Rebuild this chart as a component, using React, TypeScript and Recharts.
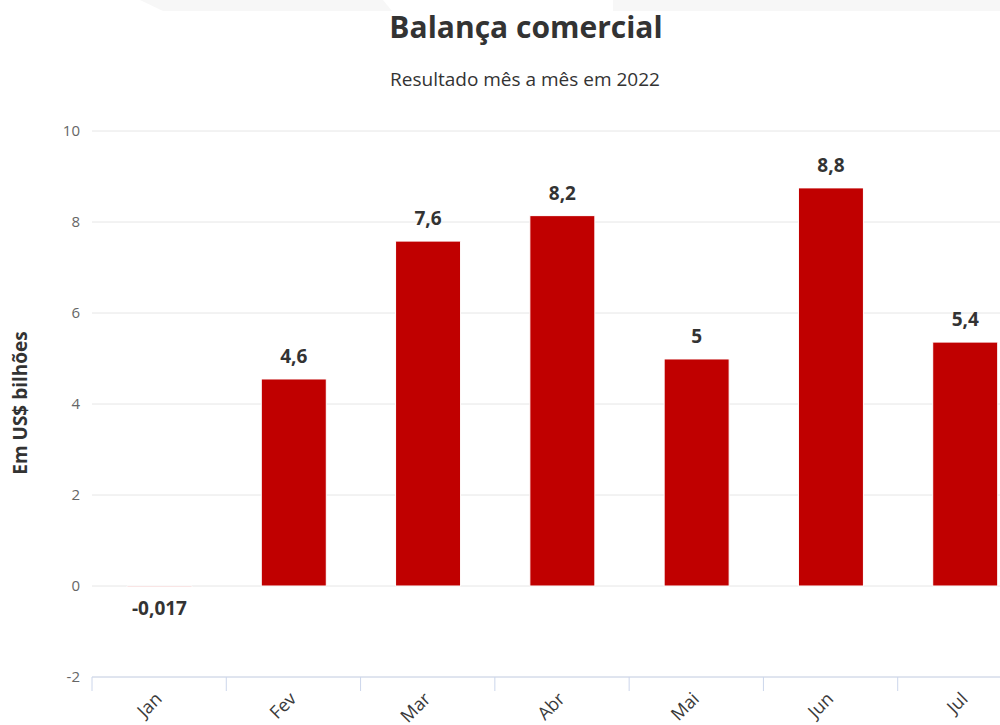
import React from 'react';
import { BarChart, Bar, XAxis, YAxis, CartesianGrid, LabelList } from 'recharts';

const months = ['Jan', 'Fev', 'Mar', 'Abr', 'Mai', 'Jun', 'Jul'];
const values = [-0.017, 4.55, 7.58, 8.14, 4.99, 8.75, 5.36];
const valueLabels = ['-0,017', '4,6', '7,6', '8,2', '5', '8,8', '5,4'];
const yTicks = [-2, 0, 2, 4, 6, 8, 10];

const data = months.map((m, i) => ({ month: m, value: values[i] }));

const CHART_W = 1050;
const CHART_H = 760;
const PLOT_LEFT = 92;
const PLOT_RIGHT = 1032;
const BAND = (PLOT_RIGHT - PLOT_LEFT) / months.length;
const FONT = '"Open Sans", "DejaVu Sans", sans-serif';

const XTick = (props: any) => {
  const { x, y, payload, index } = props;
  const ax = x + 4;
  const ay = y + 23;
  return (
    <g>
      <line x1={x - BAND / 2} y1={y} x2={x - BAND / 2} y2={y + 14} stroke="#ccd6eb" strokeWidth={1} />
      {index === months.length - 1 && (
        <line x1={x + BAND / 2} y1={y} x2={x + BAND / 2} y2={y + 14} stroke="#ccd6eb" strokeWidth={1} />
      )}
      <text
        x={ax}
        y={ay}
        textAnchor="end"
        transform={`rotate(-45 ${ax} ${ay})`}
        fill="#3a3a3a"
        fontSize={18}
        fontFamily={FONT}
      >
        {payload.value}
      </text>
    </g>
  );
};

const ValueLabel = (props: any) => {
  const { x, y, width, height, index } = props;
  const v = values[index];
  const cx = x + width / 2;
  const top = Math.min(y, y + height);
  const bottom = Math.max(y, y + height);
  const ty = v >= 0 ? top - 16 : bottom + 28;
  return (
    <text
      x={cx}
      y={ty}
      textAnchor="middle"
      fill="#333"
      fontSize={19}
      fontWeight={700}
      fontFamily={FONT}
    >
      {valueLabels[index]}
    </text>
  );
};

export default function App() {
  return (
    <div
      style={{
        position: 'absolute',
        left: 0,
        top: 0,
        width: 1000,
        height: 725,
        overflow: 'hidden',
        background: '#fff',
        fontFamily: FONT,
      }}
    >
      <svg width={1000} height={725} style={{ position: 'absolute', left: 0, top: 0 }}>
        <polygon points="140,0 383,0 392,11 163,11" fill="#f7f7f7" />
        <rect x={613} y={0} width={387} height={11} fill="#f7f7f7" />
        <text x={526} y={38} textAnchor="middle" fill="#333" fontSize={30} fontWeight={700} fontFamily={FONT}>
          Balança comercial
        </text>
        <text x={525} y={86} textAnchor="middle" fill="#333" fontSize={19} fontFamily={FONT}>
          Resultado mês a mês em 2022
        </text>
        <text
          x={27}
          y={403}
          textAnchor="middle"
          transform="rotate(-90 27 403)"
          fill="#333"
          fontSize={19}
          fontWeight={700}
          fontFamily={FONT}
        >
          Em US$ bilhões
        </text>
      </svg>
      <div style={{ position: 'absolute', left: 0, top: 0 }}>
        <BarChart
          width={CHART_W}
          height={CHART_H}
          data={data}
          margin={{ top: 131, right: CHART_W - PLOT_RIGHT, left: 0, bottom: 0 }}
        >
          <CartesianGrid vertical={false} stroke="#e6e6e6" />
          <YAxis
            width={PLOT_LEFT}
            domain={[-2, 10]}
            ticks={yTicks}
            interval={0}
            axisLine={false}
            tickLine={false}
            tickSize={6}
            tickMargin={6}
            tick={{ fill: '#666', fontSize: 15, fontFamily: FONT }}
          />
          <XAxis
            dataKey="month"
            height={CHART_H - 131 - 546}
            interval={0}
            axisLine={{ stroke: '#ccd6eb' }}
            tickLine={false}
            tickSize={0}
            tickMargin={0}
            tick={<XTick />}
          />
          <Bar
            dataKey="value"
            fill="#c00000"
            stroke="#ffffff"
            strokeWidth={1}
            barSize={65}
            isAnimationActive={false}
          >
            <LabelList dataKey="value" content={<ValueLabel />} />
          </Bar>
        </BarChart>
      </div>
    </div>
  );
}
